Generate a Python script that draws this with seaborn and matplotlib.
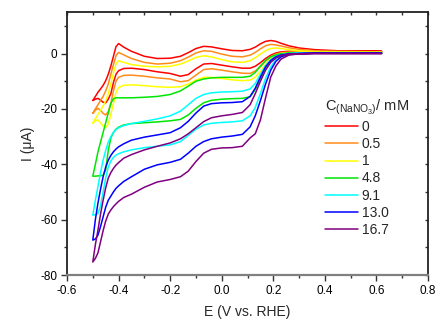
import numpy as np
import pandas as pd
import seaborn as sns
import matplotlib
matplotlib.use("Agg")
import matplotlib.pyplot as plt
from matplotlib.ticker import MultipleLocator

# potential grid (V vs. RHE) shared by both sweep branches
E = [-0.50, -0.49, -0.48, -0.47, -0.46, -0.45, -0.44, -0.43, -0.42, -0.41,
     -0.40, -0.38, -0.35, -0.30, -0.25, -0.20, -0.16, -0.13, -0.10, -0.07,
     -0.04, 0.00, 0.04, 0.08, 0.11, 0.13, 0.15, 0.17, 0.19, 0.21,
     0.23, 0.26, 0.30, 0.36, 0.45, 0.62]

conc_labels = ["0", "0.5", "1", "4.8", "9.1", "13.0", "16.7"]
colors = ["#ff0000", "#ff8c1a", "#ffff00", "#00e600", "#00ffff", "#0000ff", "#800080"]

# upper (anodic) branch, uA
up_0 = [-17, -15.5, -14, -12.8, -11.5, -9.8, -7.5, -4.5, -1, 2.5,
        3.6, 2.3, 0.8, -1.0, -1.8, -1.7, -1.0, 0.3, 1.8, 2.6,
        2.4, 1.7, 1.1, 1.0, 1.5, 2.3, 3.5, 4.4, 4.7, 4.4,
        3.7, 2.8, 2.0, 1.4, 1.0, 0.8]
up_05 = [-21.6, -20, -18.5, -17, -15.5, -13.5, -11, -7.5, -4, -0.8,
         0.4, -0.5, -1.8, -3.2, -3.8, -3.5, -2.6, -1.3, 0.2, 1.0,
         0.8, -0.2, -1.0, -1.2, -0.6, 0.4, 1.7, 2.8, 3.3, 3.1,
         2.7, 2.1, 1.5, 1.0, 0.8, 0.6]
up_1 = [-25.2, -23.5, -22, -20.5, -19, -17, -14.5, -11, -7, -3.8,
        -2.6, -3.2, -4.0, -4.6, -4.8, -4.6, -3.8, -2.7, -1.4, -0.8,
        -1.2, -2.2, -3.0, -3.2, -2.6, -1.5, -0.2, 1.0, 1.8, 2.0,
        1.8, 1.4, 1.0, 0.7, 0.5, 0.4]
up_48 = [-44.3, -40, -35.5, -32, -28.5, -25, -21.5, -18, -16.3, -16.0,
         -16.0, -16.0, -16.0, -15.8, -15.5, -14.8, -13.5, -11.8, -10.0, -9.2,
         -8.8, -8.6, -8.6, -8.6, -8.2, -6.8, -4.5, -2.5, -1.2, -0.5,
         -0.1, 0.1, 0.2, 0.3, 0.3, 0.3]
up_91 = [-58.4, -53, -48, -43, -38.5, -35, -32, -30, -28.5, -27.5,
         -26.8, -26, -25.3, -24.5, -23.6, -22.5, -20.8, -18.5, -16.2, -14.8,
         -14.2, -13.9, -13.8, -13.6, -12.8, -10.8, -7.5, -4.3, -2.2, -1.0,
         -0.4, 0.0, 0.1, 0.2, 0.2, 0.2]
up_130 = [-67.4, -60, -54, -49, -44.5, -41, -38.5, -36.8, -35.5, -34.5,
          -33.7, -32.6, -31.3, -30.2, -29.4, -28.6, -26.8, -24.5, -21.5, -19,
          -18.1, -17.8, -17.7, -17.4, -15.5, -12.5, -8.5, -4.8, -2.5, -1.2,
          -0.5, -0.1, 0.0, 0.1, 0.1, 0.1]
up_167 = [-75.3, -69, -63.8, -58, -53, -48.5, -45, -43, -41.5, -40.3,
          -39.4, -37.8, -36.5, -34.8, -33.5, -32.3, -30.8, -29.0, -26.8, -24.6,
          -23.2, -22.5, -22.0, -21.3, -18.5, -14.5, -10, -6, -3.2, -1.6,
          -0.7, -0.2, -0.1, 0.0, 0.0, 0.0]

# lower (cathodic) branch, uA
lo_0 = [-17, -16.5, -16.2, -16.8, -17.6, -17.8, -16.5, -14.5, -10.5, -7.5,
        -6.2, -5.4, -5.3, -5.8, -6.6, -7.2, -8.2, -7.6, -5.5, -3.8,
        -3.6, -4.2, -4.8, -5.3, -5.3, -4.6, -3.3, -1.8, -0.6, 0.2,
        0.6, 0.8, 0.9, 0.9, 0.8, 0.8]
lo_05 = [-21.6, -20.5, -19.8, -20.5, -21.6, -22.2, -21, -18, -13.5, -10,
         -8.6, -7.9, -7.8, -8.2, -8.8, -9.2, -10.2, -9.8, -7.8, -5.8,
         -5.5, -6.0, -6.6, -7.1, -7.2, -6.3, -4.8, -2.8, -1.2, -0.2,
         0.3, 0.5, 0.6, 0.6, 0.6, 0.6]
lo_1 = [-25.2, -24.2, -24, -25, -26.2, -26.7, -25.5, -22, -18, -14,
        -12.3, -11.5, -11.3, -11.6, -12.0, -12.2, -12.0, -11.0, -9.6, -8.6,
        -8.6, -9.0, -9.5, -9.8, -9.6, -8.5, -6.5, -4.0, -1.8, -0.6,
        0.0, 0.3, 0.4, 0.4, 0.4, 0.4]
lo_48 = [-44.3, -44.3, -44.2, -44.1, -44, -42, -35, -30.5, -28.5, -27.3,
         -26.6, -25.8, -25.3, -25.0, -24.7, -24.3, -23.8, -22.2, -19.8, -17.8,
         -16.9, -16.5, -16.3, -16.2, -15.6, -13, -9, -5.2, -2.5, -1.0,
         -0.3, 0.1, 0.2, 0.3, 0.3, 0.3]
lo_91 = [-58.4, -58.2, -57.8, -55, -50, -45, -41, -38.8, -37.5, -36.7,
         -36.2, -35.5, -34.8, -34.0, -33.5, -33.0, -31.8, -29.6, -27.3, -25.8,
         -25.2, -24.9, -24.7, -24.3, -22.5, -19.5, -14.5, -9, -4.8, -2.2,
         -0.9, -0.1, 0.1, 0.2, 0.2, 0.2]
lo_130 = [-67.4, -67, -65.6, -62.5, -59, -55.5, -53, -51.5, -50, -48.7,
          -47.8, -46.2, -44.5, -41.8, -40.2, -39.3, -38.2, -36, -33.5, -31.8,
          -30.8, -30.2, -29.8, -29.2, -26.5, -22.5, -17, -11, -6, -2.8,
          -1.2, -0.3, 0.0, 0.1, 0.1, 0.1]
lo_167 = [-75.3, -74, -72, -68, -64, -60.5, -58, -56.5, -55.3, -54.3,
          -53.4, -52.0, -50.8, -48.3, -46.4, -45.5, -44.5, -42.5, -39, -36,
          -34.6, -34.1, -34.0, -33.5, -30.5, -29, -24, -16, -8.5, -4.5,
          -2.0, -0.6, -0.1, 0.0, 0.0, 0.0]

upper = [up_0, up_05, up_1, up_48, up_91, up_130, up_167]
lower = [lo_0, lo_05, lo_1, lo_48, lo_91, lo_130, lo_167]

# one closed loop per concentration: cathodic sweep down, anodic sweep back
rows = []
for lab, lo, up in zip(conc_labels, lower, upper):
    for e, i in zip(E[::-1], lo[::-1]):
        rows.append((lab, e, i))
    for e, i in zip(E, up):
        rows.append((lab, e, i))
df = pd.DataFrame(rows, columns=["conc", "E", "I"])

sns.set_style("ticks")
plt.rcParams["font.family"] = ["Liberation Sans", "DejaVu Sans"]
plt.rcParams["mathtext.fontset"] = "custom"
plt.rcParams["mathtext.rm"] = "Liberation Sans"
plt.rcParams["mathtext.it"] = "Liberation Sans:italic"

fig = plt.figure(figsize=(4.36, 3.2), dpi=100)
ax = fig.add_axes([0.1537, 0.1406, 0.828, 0.8219])

sns.lineplot(data=df, x="E", y="I", hue="conc", palette=colors, sort=False,
             estimator=None, linewidth=1.1, legend=False, ax=ax)

ax.set_xlim(-0.6, 0.8)
ax.set_ylim(-80, 15)
ax.xaxis.set_major_locator(MultipleLocator(0.2))
ax.xaxis.set_minor_locator(MultipleLocator(0.1))
ax.yaxis.set_major_locator(MultipleLocator(20))
ax.yaxis.set_minor_locator(MultipleLocator(10))
ax.set_xticks(np.arange(-0.6, 0.81, 0.2))
ax.set_xticklabels(["-0.6", "-0.4", "-0.2", "0.0", "0.2", "0.4", "0.6", "0.8"])
ax.set_yticks([-80, -60, -40, -20, 0])
ax.set_yticklabels(["-80", "-60", "-40", "-20", "0"])

ax.tick_params(axis="both", which="major", direction="out", length=4.5, width=1.0,
               labelsize=8.5, pad=2.5, colors="#333333")
ax.tick_params(axis="both", which="minor", direction="out", length=2.5, width=1.0,
               colors="#333333")
ax.tick_params(top=True, right=True, which="both")
ax.tick_params(axis="x", which="major", labelcolor="black")
ax.tick_params(axis="y", which="major", labelcolor="black")

# mirrored ticks on top/right point inward
for t in ax.xaxis.get_major_ticks() + ax.xaxis.get_minor_ticks():
    t.tick2line.set_marker(3)
    t.tick2line.set_markersize(2.5)
for t in ax.yaxis.get_major_ticks() + ax.yaxis.get_minor_ticks():
    t.tick2line.set_marker(0)
    t.tick2line.set_markersize(2.5)

for side in ["top", "right", "left"]:
    ax.spines[side].set_color("#222222")
    ax.spines[side].set_linewidth(1.3)
ax.spines["bottom"].set_color("#808080")
ax.spines["bottom"].set_linewidth(1.6)

ax.set_xlabel("E (V vs. RHE)", fontsize=10, labelpad=6)
ax.set_ylabel("I (μA)", fontsize=10, labelpad=4)

leg = ax.legend(ax.lines[:7], conc_labels,
                title=r"C$_{\mathrm{(NaNO_3)}}$/ mM", title_fontsize=10.5,
                fontsize=10, frameon=False, alignment="left",
                loc="upper left", bbox_to_anchor=(318 / 436, 1 - 91 / 320),
                bbox_transform=fig.transFigure, borderpad=0,
                handlelength=2.4, handletextpad=0.25, labelspacing=0.22)

fig.savefig("out.png", dpi=100)
